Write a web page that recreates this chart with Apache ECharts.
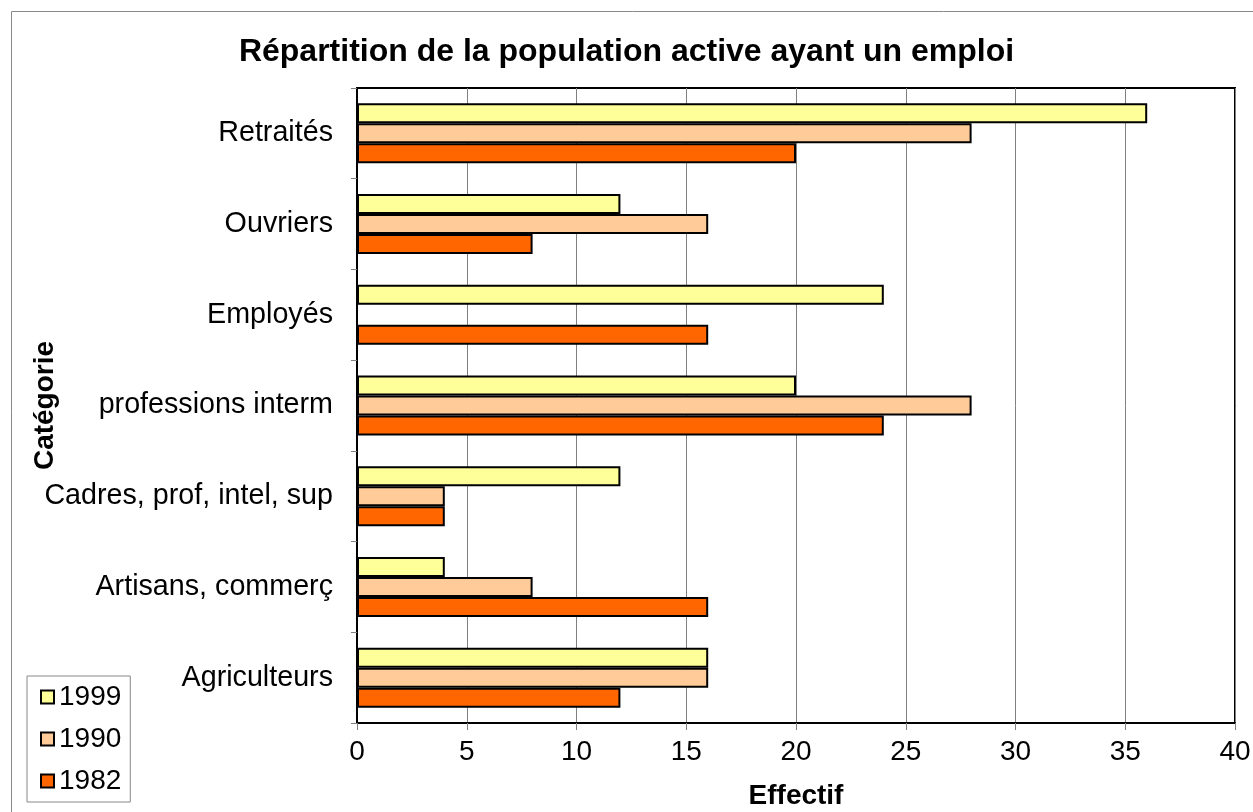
<!DOCTYPE html>
<html>
<head>
<meta charset="utf-8">
<script src="https://cdn.jsdelivr.net/npm/echarts@6/dist/echarts.min.js"></script>
<style>html,body{margin:0;padding:0;background:#fff}#c{width:1253px;height:812px}</style>
</head>
<body>
<div id="c"></div>
<script>
const categories = ['Agriculteurs', 'Artisans, commerç', 'Cadres, prof, intel, sup', 'professions interm', 'Employés', 'Ouvriers', 'Retraités'];
const s1999 = [16, 4, 12, 20, 24, 12, 36];
const s1990 = [16, 8, 4, 28, null, 16, 28];
const s1982 = [12, 16, 4, 24, 16, 8, 20];
const xTicks = { min: 0, max: 40, interval: 5 };

const chart = echarts.init(document.getElementById('c'), null, { renderer: 'canvas' });
const font = 'Liberation Sans, Arial, sans-serif';
function ser(name, data, color) {
  return {
    name: name, type: 'bar', data: data, barWidth: 20, barGap: '0%',
    itemStyle: { color: color, borderColor: '#000', borderWidth: 2 },
    emphasis: { disabled: true }
  };
}
chart.setOption({
  animation: false,
  textStyle: { fontFamily: font },
  graphic: [{
    type: 'rect', shape: { x: 11.5, y: 11.5, width: 1260, height: 820 },
    style: { fill: 'none', stroke: '#888', lineWidth: 1 }, silent: true, z: -10
  }],
  title: {
    text: 'Répartition de la population active ayant un emploi',
    left: 'center', top: 31,
    textStyle: { fontFamily: font, fontWeight: 'bold', fontSize: 32, color: '#000' }
  },
  legend: {
    data: ['1999', '1990', '1982'],
    orient: 'vertical', left: 27, top: 676,
    padding: [7, 9, 7, 13],
    itemWidth: 13, itemHeight: 13, itemGap: 14,
    borderColor: '#888', borderWidth: 1,
    textStyle: { fontFamily: font, fontSize: 28, color: '#000' },
    icon: 'rect'
  },
  grid: {
    left: 357, top: 88, right: 18, bottom: 89,
    show: true, borderColor: '#000', borderWidth: 2,
    containLabel: false, outerBoundsMode: 'none'
  },
  xAxis: {
    type: 'value', min: xTicks.min, max: xTicks.max, interval: xTicks.interval,
    name: 'Effectif', nameLocation: 'middle', nameGap: 59,
    nameTextStyle: { fontFamily: font, fontWeight: 'bold', fontSize: 28, color: '#000' },
    axisLine: { show: true, lineStyle: { color: '#000', width: 2 } },
    axisTick: { show: true, length: 7, lineStyle: { color: '#808080', width: 1 } },
    axisLabel: { fontFamily: font, fontSize: 28, color: '#000', margin: 15 },
    splitLine: { show: true, lineStyle: { color: '#808080', width: 1 } }
  },
  yAxis: {
    type: 'category', data: categories,
    name: 'Catégorie', nameLocation: 'middle', nameGap: 298, nameRotate: 90,
    nameMoveOverlap: false,
    nameTextStyle: { fontFamily: font, fontWeight: 'bold', fontSize: 28, color: '#000' },
    axisLine: { show: true, lineStyle: { color: '#000', width: 2 } },
    axisTick: { show: true, length: 6, alignWithLabel: false, lineStyle: { color: '#808080', width: 1 } },
    axisLabel: { fontFamily: font, fontSize: 28.7, color: '#000', margin: 24 },
    splitLine: { show: false }
  },
  series: [
    ser('1999', s1999, '#FFFF99'),
    ser('1990', s1990, '#FFCC99'),
    ser('1982', s1982, '#FF6600')
  ]
});
</script>
</body>
</html>
